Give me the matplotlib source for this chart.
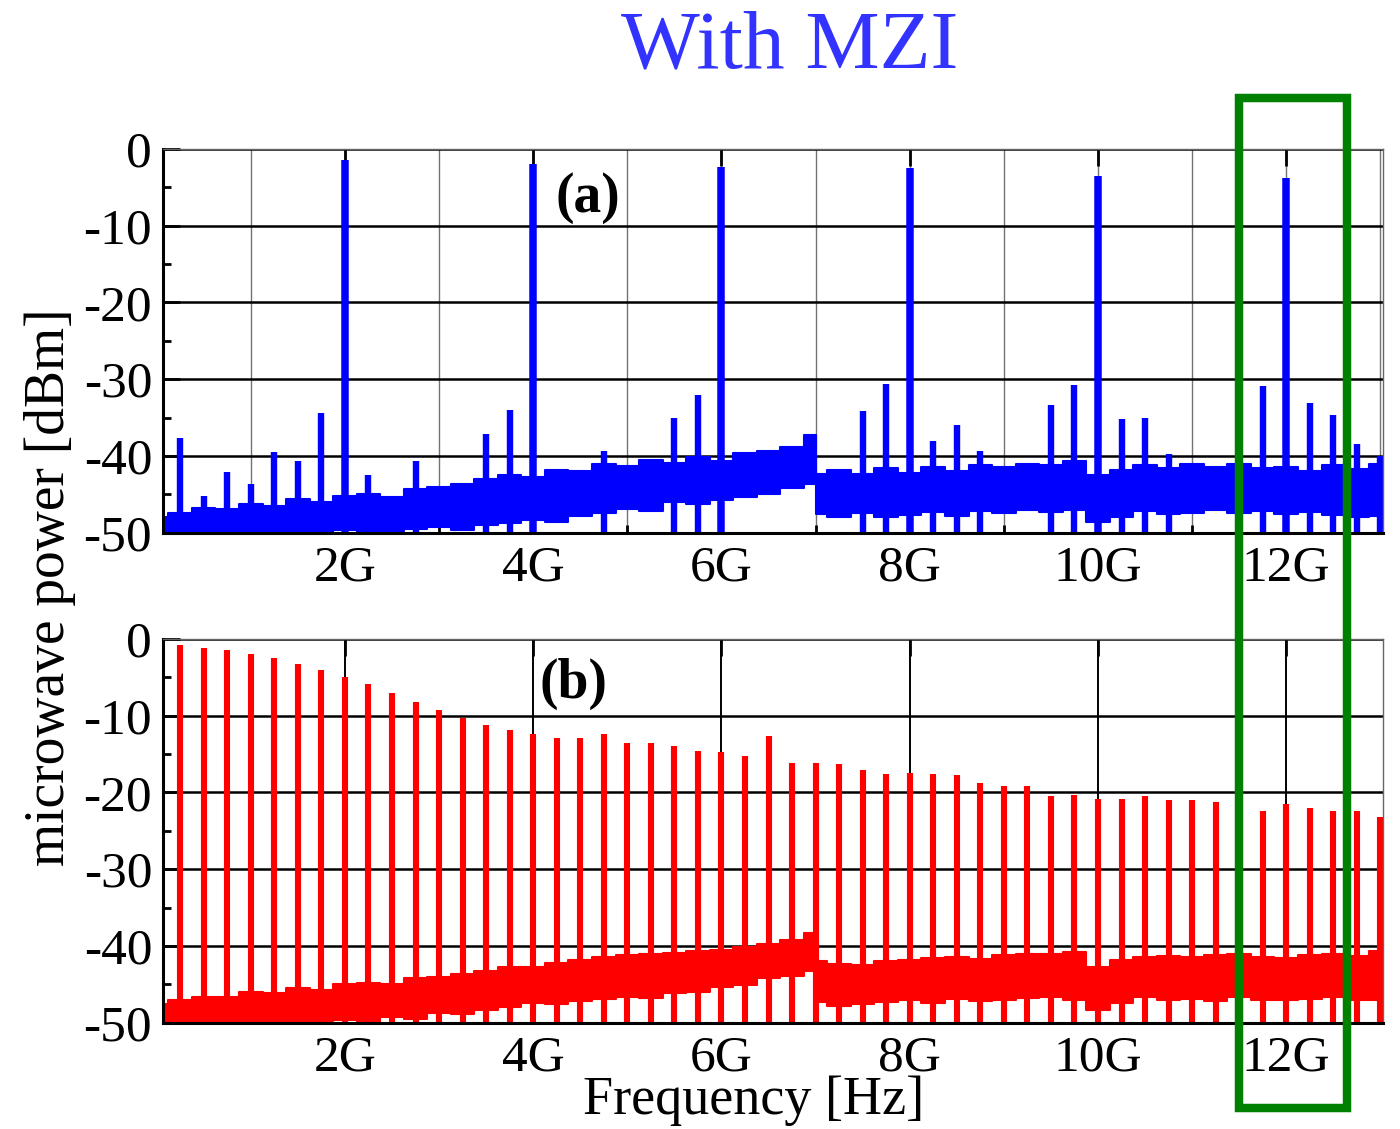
import matplotlib
matplotlib.use("Agg")
import matplotlib.pyplot as plt
from matplotlib.patches import Rectangle
from matplotlib.ticker import FixedLocator

plt.rcParams['font.family'] = ['Liberation Serif', 'DejaVu Serif']

# ---- data (GHz / dBm) ----
x_ticks = [2, 4, 6, 8, 10, 12]
x_tick_labels = ['2G', '4G', '6G', '8G', '10G', '12G']
y_ticks = [0, -10, -20, -30, -40, -50]
y_tick_labels = ['0', '-10', '-20', '-30', '-40', '-50']

# noise floor envelope (upper / lower edge), break at 7 GHz
noise_freq = [0.0, 0.25, 0.5, 0.75, 1.0, 1.25, 1.5, 1.75, 2.0, 2.25, 2.5, 2.75,
              3.0, 3.25, 3.5, 3.75, 4.0, 4.25, 4.5, 4.75, 5.0, 5.25, 5.5, 5.75,
              6.0, 6.25, 6.5, 6.75, 7.0, 7.0, 7.25, 7.5, 7.75, 8.0, 8.25, 8.5,
              8.75, 9.0, 9.25, 9.5, 9.75, 10.0, 10.25, 10.5, 10.75, 11.0, 11.25,
              11.5, 11.75, 12.0, 12.25, 12.5, 12.75, 13.0, 13.25]

noise_a_hi = [-47.9, -47.4, -46.8, -46.9, -46.2, -46.5, -45.6, -46.0, -45.2, -44.9, -45.3, -44.3,
              -44.1, -43.6, -43.0, -42.5, -42.8, -41.8, -42.0, -41.0, -41.3, -40.5, -40.9, -40.1,
              -40.6, -39.6, -39.3, -38.8, -37.3, -42.3, -41.8, -42.4, -41.6, -42.2, -41.5, -41.9,
              -41.2, -41.5, -41.0, -41.2, -40.6, -42.5, -41.8, -41.2, -41.6, -41.0, -41.5,
              -41.1, -41.6, -41.4, -41.9, -41.2, -41.7, -41.0, -41.0]
noise_a_lo = [-50.5, -50.3, -50.4, -50.2, -50.5, -50.1, -50.3, -49.9, -49.7, -50.2, -49.8, -49.5,
              -49.3, -49.6, -49.0, -48.7, -48.4, -48.6, -47.8, -47.5, -46.9, -47.2, -46.0, -46.3,
              -45.8, -45.4, -44.9, -44.2, -43.6, -47.6, -47.9, -47.5, -48.0, -47.7, -47.3, -47.8,
              -47.2, -47.5, -47.0, -47.3, -47.1, -48.6, -47.9, -47.2, -47.6, -47.4, -47.1,
              -47.5, -47.2, -47.6, -47.3, -47.7, -47.9, -47.8, -47.8]

noise_b_hi = [-47.6, -47.0, -46.6, -46.7, -46.0, -46.2, -45.5, -45.7, -45.0, -44.8, -44.9, -44.2,
              -44.0, -43.6, -43.3, -42.8, -42.7, -42.2, -41.8, -41.5, -41.2, -41.0, -40.9, -40.7,
              -40.5, -40.2, -39.8, -39.2, -38.3, -42.0, -42.3, -42.5, -42.0, -41.9, -41.6, -41.5,
              -41.7, -41.2, -41.0, -41.1, -40.8, -42.7, -41.9, -41.5, -41.3, -41.5, -41.2,
              -41.0, -41.4, -41.6, -41.2, -41.0, -41.3, -40.7, -40.7]
noise_b_lo = [-50.4, -50.2, -50.3, -50.1, -50.2, -49.9, -50.2, -49.8, -49.7, -49.9, -49.2, -49.5,
              -48.8, -48.9, -48.4, -48.0, -47.5, -47.6, -47.2, -46.9, -46.6, -46.8, -46.2, -46.0,
              -45.4, -45.1, -44.2, -43.9, -43.3, -47.3, -47.8, -47.6, -47.3, -47.1, -47.4, -46.9,
              -47.2, -47.1, -46.8, -46.7, -47.0, -48.4, -47.5, -46.7, -47.0, -46.9, -47.2,
              -46.7, -47.0, -47.1, -46.9, -46.7, -47.0, -47.1, -47.1]

# (a) with MZI: strong lines every 2 GHz, weak leftovers in between
spike_a_freq = [0.25, 0.5, 0.75, 1.0, 1.25, 1.5, 1.75, 2.0, 2.25, 2.75, 3.5, 3.75,
                4.0, 4.75, 5.5, 5.75, 6.0, 7.5, 7.75, 8.0, 8.25, 8.5, 8.75, 9.5,
                9.75, 10.0, 10.25, 10.5, 10.75, 11.5, 11.75, 12.0, 12.25, 12.5, 12.75, 13.0]
spike_a_dbm = [-37.6, -45.2, -42.1, -43.6, -39.5, -40.7, -34.4, -1.4, -42.5, -40.6, -37.2, -34.0,
               -1.9, -39.3, -35.0, -32.1, -2.4, -34.2, -30.6, -2.5, -38.0, -36.0, -39.3, -33.3,
               -30.8, -3.5, -35.2, -35.1, -39.7, -31.9, -30.9, -3.8, -33.1, -34.6, -38.4, -40.0]

# (b) without filtering: comb every 250 MHz
spike_b_freq = [0.25, 0.5, 0.75, 1.0, 1.25, 1.5, 1.75, 2.0, 2.25, 2.5, 2.75, 3.0, 3.25,
                3.5, 3.75, 4.0, 4.25, 4.5, 4.75, 5.0, 5.25, 5.5, 5.75, 6.0, 6.25, 6.5,
                6.75, 7.0, 7.25, 7.5, 7.75, 8.0, 8.25, 8.5, 8.75, 9.0, 9.25, 9.5, 9.75,
                10.0, 10.25, 10.5, 10.75, 11.0, 11.25, 11.5, 11.75, 12.0, 12.25, 12.5, 12.75, 13.0]
spike_b_dbm = [-0.8, -1.2, -1.4, -2.0, -2.5, -3.3, -4.0, -5.0, -5.9, -7.0, -8.2, -9.3, -10.3,
               -11.2, -11.9, -12.4, -12.9, -12.9, -12.4, -13.6, -13.6, -14.0, -14.6, -14.7, -15.3, -12.7,
               -16.2, -16.1, -16.3, -17.1, -17.6, -17.5, -17.6, -17.7, -18.8, -19.1, -19.1, -20.5, -20.3,
               -20.8, -20.9, -20.5, -21.0, -21.0, -21.2, -21.4, -22.4, -21.5, -22.0, -22.4, -22.4, -23.2]


def setup(ax, minor_grid, grid_color):
    ax.set_xlim(0.07, 13.03)
    ax.set_ylim(-50, 0)
    ax.set_axisbelow(True)
    ax.set_xticks(x_ticks, labels=x_tick_labels)
    ax.xaxis.set_minor_locator(FixedLocator([1, 3, 5, 7, 9, 11, 13]))
    ax.set_yticks(y_ticks, labels=y_tick_labels)
    ax.yaxis.set_minor_locator(FixedLocator([-5, -15, -25, -35, -45]))
    ax.tick_params(axis='both', which='major', direction='in', length=12, width=2.0,
                   labelsize=37, color='black')
    ax.tick_params(axis='both', which='minor', direction='in', length=6, width=2.0)
    ax.tick_params(axis='x', which='major', top=True, pad=9)
    ax.tick_params(axis='x', which='minor', top=False)
    ax.tick_params(axis='y', pad=8)
    ax.grid(True, axis='y', which='major', color='black', lw=1.8)
    if minor_grid:
        ax.grid(True, axis='x', which='both', color=grid_color, lw=1.0)
    else:
        ax.grid(True, axis='x', which='major', color=grid_color, lw=1.4)
    for side in ['left', 'bottom']:
        ax.spines[side].set_linewidth(2.2)
    for side in ['top', 'right']:
        ax.spines[side].set_linewidth(1.0)
        ax.spines[side].set_color('0.4')


fig = plt.figure(figsize=(14, 11.29), dpi=100)
ax_a = fig.add_axes([0.1166, 0.5282, 0.8714, 0.3398])
ax_b = fig.add_axes([0.1166, 0.0942, 0.8714, 0.3398])

setup(ax_a, True, '0.45')
setup(ax_b, False, 'black')

# panel (a)
ax_a.fill_between(noise_freq, noise_a_lo, noise_a_hi, step='mid', color='blue', lw=1.5)
big = [f for f, v in zip(spike_a_freq, spike_a_dbm) if v > -10]
big_v = [v for v in spike_a_dbm if v > -10]
small = [f for f, v in zip(spike_a_freq, spike_a_dbm) if v <= -10]
small_v = [v for v in spike_a_dbm if v <= -10]
ax_a.vlines(big, -51, big_v, color='blue', lw=5.4)
ax_a.vlines(small, -51, small_v, color='blue', lw=4.6)

# panel (b)
ax_b.fill_between(noise_freq, noise_b_lo, noise_b_hi, step='mid', color='red', lw=1.5)
ax_b.vlines(spike_b_freq, -51, spike_b_dbm, color='red', lw=4.4)

fig.text(0.4196, 0.8246, '(a)', fontsize=40, fontweight='bold', ha='center', va='center')
fig.text(0.410, 0.394, '(b)', fontsize=40, fontweight='bold', ha='center', va='center')

fig.text(0.564, 0.9398, 'With MZI', fontsize=60, color='#3333ff', ha='center', va='baseline')
fig.text(0.036, 0.48, 'microwave power [dBm]', fontsize=40, rotation=90,
         ha='center', va='center')
fig.text(0.538, 0.0133, 'Frequency [Hz]', fontsize=39, ha='center', va='baseline')

# green box marking the 12 GHz region
fig.add_artist(Rectangle((1239 / 1400, 1 - 1108 / 1129), (1346.7 - 1239) / 1400,
                         (1108 - 98.3) / 1129, transform=fig.transFigure,
                         fill=False, edgecolor='#008000', lw=6.1, clip_on=False))

fig.savefig('out.png', dpi=100)
